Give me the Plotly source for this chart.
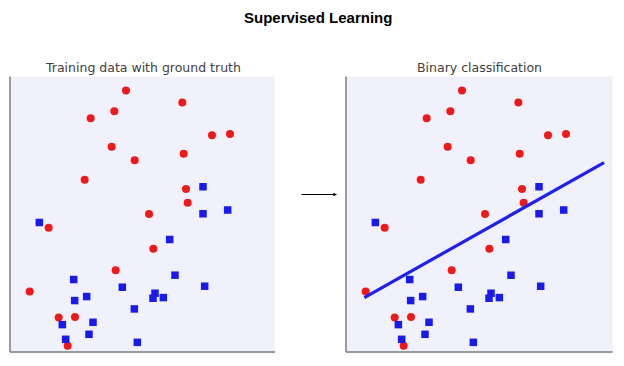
import plotly.graph_objects as go

# ---- data ----
red_x = [3.48, 5.17, 3.13, 2.42, 6.06, 6.60, 3.05, 5.21, 3.74, 2.24,
         5.28, 5.33, 4.17, 1.16, 4.30, 3.17, 0.59, 1.46, 1.95, 1.73]
red_y = [7.83, 7.47, 7.21, 7.00, 6.49, 6.53, 6.15, 5.94, 5.74, 5.16,
         4.88, 4.47, 4.13, 3.72, 3.09, 2.45, 1.81, 1.03, 1.05, 0.19]
blue_x = [5.79, 6.53, 5.79, 0.88, 4.79, 4.95, 1.91, 5.84, 3.37, 2.30,
          1.94, 4.35, 4.29, 4.60, 3.73, 1.57, 2.49, 2.37, 1.67, 3.82]
blue_y = [4.95, 4.25, 4.14, 3.88, 3.37, 2.30, 2.17, 1.97, 1.94, 1.66,
          1.54, 1.76, 1.61, 1.63, 1.29, 0.82, 0.89, 0.53, 0.38, 0.29]
line_x = [0.55, 7.74]
line_y = [1.63, 5.67]

title = "Supervised Learning"
left_title = "Training data with ground truth"
right_title = "Binary classification"

RED = "#ee1a1a"
BLUE = "#1a1aee"
BG = "#f1f1fb"

# page body has an 8px default margin; compensate
OFF = 8
W, H = 624 - OFF, 366 - OFF


def px(x):
    return (x - OFF) / W


def py(y):
    return 1 - (y - OFF) / H


fig = go.Figure()

for xa, ya in (("x", "y"), ("x2", "y2")):
    fig.add_trace(go.Scatter(x=red_x, y=red_y, mode="markers", xaxis=xa, yaxis=ya,
                             marker=dict(symbol="circle", size=8, color=RED, line=dict(width=0)),
                             showlegend=False, hoverinfo="skip"))
    fig.add_trace(go.Scatter(x=blue_x, y=blue_y, mode="markers", xaxis=xa, yaxis=ya,
                             marker=dict(symbol="square", size=7.5, color=BLUE, line=dict(width=0)),
                             showlegend=False, hoverinfo="skip"))

fig.add_trace(go.Scatter(x=line_x, y=line_y, mode="lines", xaxis="x2", yaxis="y2",
                         line=dict(color="#2020ee", width=3.2),
                         showlegend=False, hoverinfo="skip"))

ydom = [py(352), py(76.5)]
ax_common = dict(showgrid=False, zeroline=False, showticklabels=False, ticks="",
                 showline=False, fixedrange=True)
fig.update_layout(
    width=W, height=H,
    margin=dict(l=0, r=0, t=0, b=0),
    paper_bgcolor="white",
    plot_bgcolor=BG,
    xaxis=dict(domain=[px(10), px(275)], range=[0, 7.95], anchor="y", **ax_common),
    yaxis=dict(domain=ydom, range=[0, 8.25], anchor="x", **ax_common),
    xaxis2=dict(domain=[px(346), px(612.7)], range=[0, 8.0], anchor="y2", **ax_common),
    yaxis2=dict(domain=ydom, range=[0, 8.25], anchor="x2", **ax_common),
)

# spines (left and bottom)
for xr, yr in (("x", "y"), ("x2", "y2")):
    fig.add_shape(type="line", xref=f"{xr} domain", yref=f"{yr} domain",
                  x0=0, x1=0, y0=0, y1=1, line=dict(color="#9a9a9a", width=2))
    fig.add_shape(type="line", xref=f"{xr} domain", yref=f"{yr} domain",
                  x0=0, x1=1, y0=0, y1=0, line=dict(color="#9a9a9a", width=2))

annotations = [
    dict(text=f"<b>{title}</b>", x=px(318), y=py(17), xref="paper", yref="paper",
         showarrow=False, xanchor="center", yanchor="middle",
         font=dict(family="Liberation Sans, Arial", size=15, color="black")),
    dict(text=left_title, x=px(142.5), y=py(67.5), xref="paper", yref="paper",
         showarrow=False, xanchor="center", yanchor="middle",
         font=dict(family="DejaVu Sans", size=12.5, color="#404040")),
    dict(text=right_title, x=px(479.5), y=py(67.5), xref="paper", yref="paper",
         showarrow=False, xanchor="center", yanchor="middle",
         font=dict(family="DejaVu Sans", size=12.5, color="#404040")),
    dict(text="", x=px(337), y=py(194.5), xref="paper", yref="paper",
         ax=-37, ay=0, showarrow=True, arrowhead=2, arrowsize=0.7,
         arrowwidth=1, arrowcolor="black"),
]
fig.update_layout(annotations=annotations)

fig.write_html("out.html")
